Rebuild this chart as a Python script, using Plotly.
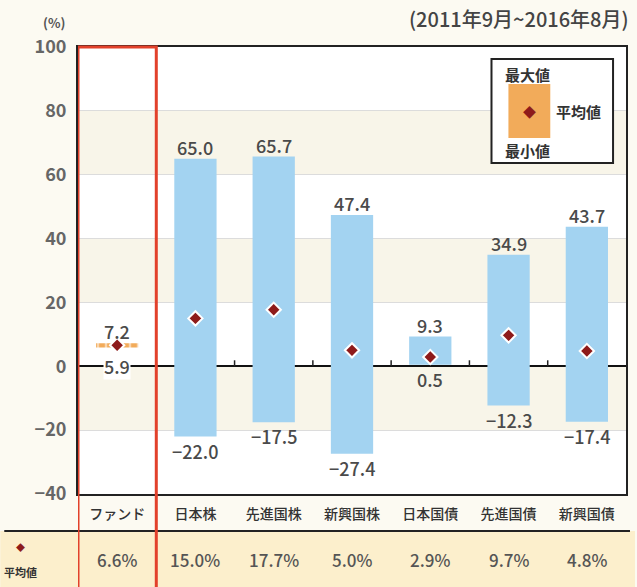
import plotly.graph_objects as go

categories = ["ファンド", "日本株", "先進国株", "新興国株", "日本国債", "先進国債", "新興国債"]
max_vals = [7.2, 65.0, 65.7, 47.4, 9.3, 34.9, 43.7]
min_vals = [5.9, -22.0, -17.5, -27.4, 0.5, -12.3, -17.4]
avg_vals = [6.6, 15.0, 17.7, 5.0, 2.9, 9.7, 4.8]
y_ticks = [100, 80, 60, 40, 20, 0, -20, -40]

FONT = "Noto Sans CJK JP"
PAPER = "#fcfaf2"
CREAM = "#f8f5e9"
ROW = "#fcefcc"
BLUE = "#a3d3f1"
ORANGE = "#f2ab5a"
DIAMOND = "#8e1b1b"
RED = "#e2412b"

L, R, T, B = 78, 9, 47, 93
W, H = 637, 587
pw, ph = W - L - R, H - T - B

def px_x(p):
    return (p - L) / pw

def px_y(p):
    return (H - B - p) / ph

fig = go.Figure()

# asset-class range bars
fig.add_trace(go.Bar(
    x=categories[1:], y=[mx - mn for mx, mn in zip(max_vals[1:], min_vals[1:])],
    base=min_vals[1:], marker=dict(color=BLUE, line=dict(width=0)), width=0.54,
    hoverinfo="skip", showlegend=False))
# fund range bar (dashed look)
fig.add_trace(go.Bar(
    x=categories[:1], y=[max_vals[0] - min_vals[0]], base=min_vals[:1],
    marker=dict(color=ORANGE, line=dict(width=0),
                pattern=dict(shape="|", fgcolor="white", size=8, solidity=0.3, fillmode="overlay")),
    width=0.54, hoverinfo="skip", showlegend=False))
# averages
fig.add_trace(go.Scatter(
    x=categories, y=avg_vals, mode="markers",
    marker=dict(symbol="diamond", size=11, color=DIAMOND, line=dict(color="white", width=2)),
    hoverinfo="skip", showlegend=False))

shapes = []
# cream bands
for y0, y1 in [(60, 80), (20, 40), (-20, 0)]:
    shapes.append(dict(type="rect", xref="paper", yref="y", x0=0, x1=1, y0=y0, y1=y1,
                       fillcolor=CREAM, line=dict(width=0), layer="below"))
# small ticks on zero line between categories
for i in range(len(categories) - 1):
    shapes.append(dict(type="line", xref="x", yref="y", x0=i + 0.5, x1=i + 0.5,
                       ysizemode="pixel", yanchor=0, y0=0, y1=6,
                       line=dict(color="#222", width=1.5)))
# bottom table row
shapes.append(dict(type="rect", xref="paper", yref="paper", x0=px_x(0), x1=px_x(W),
                   y0=px_y(H + 5), y1=px_y(531), fillcolor=ROW, line=dict(width=0), layer="below"))
shapes.append(dict(type="line", xref="paper", yref="paper", x0=px_x(4), x1=px_x(632),
                   y0=px_y(531), y1=px_y(531), line=dict(color="#222", width=2)))
# legend box
shapes.append(dict(type="rect", xref="paper", yref="paper", x0=px_x(493), x1=px_x(615),
                   y0=px_y(163), y1=px_y(59), fillcolor="white", line=dict(color="#222", width=2)))
shapes.append(dict(type="rect", xref="paper", yref="paper", x0=px_x(510), x1=px_x(552),
                   y0=px_y(138), y1=px_y(84), fillcolor=ORANGE, line=dict(width=0)))
# red highlight box around fund
shapes.append(dict(type="rect", xref="x", yref="paper", x0=-0.5, x1=0.5,
                   y0=px_y(H + 20), y1=1, line=dict(color=RED, width=3)))

annotations = []
lab_font = dict(family=FONT, size=18, color="#4a4a4a", weight=500)
for i, c in enumerate(categories):
    annotations.append(dict(x=c, y=max_vals[i], xref="x", yref="y", text=f"{max_vals[i]:.1f}",
                            showarrow=False, xanchor="center", yanchor="bottom", yshift=-3,
                            font=lab_font))
    if i == 0:
        annotations.append(dict(x=c, y=0, xref="x", yref="y", text=f"{min_vals[i]:.1f}",
                                showarrow=False, xanchor="center", yanchor="middle", font=lab_font,
                                bgcolor="white", borderpad=0))
    else:
        txt = f"{min_vals[i]:.1f}".replace("-", "−")
        annotations.append(dict(x=c, y=min_vals[i], xref="x", yref="y", text=txt,
                                showarrow=False, xanchor="center", yanchor="top", yshift=1,
                                font=lab_font))
    annotations.append(dict(x=c, y=px_y(559), xref="x", yref="paper", text=f"{avg_vals[i]:.1f}%",
                            showarrow=False, xanchor="center", yanchor="middle",
                            font=dict(family=FONT, size=17, color="#555", weight=500)))

def note(xp, yp, text, size, color, xanchor="center", weight=600):
    return dict(x=px_x(xp), y=px_y(yp), xref="paper", yref="paper", text=text, showarrow=False,
                xanchor=xanchor, yanchor="middle",
                font=dict(family=FONT, size=size, color=color, weight=weight))

annotations += [
    note(54, 22, "(%)", 13, "#555"),
    note(633, 19, "(2011年9月~2016年8月)", 20, "#444", xanchor="right", weight=500),
    note(20, 547, "◆", 9, DIAMOND),
    note(20, 572, "平均値", 11, "#333"),
    note(529, 75, "最大値", 15, "#333"),
    note(580, 112, "平均値", 15, "#333"),
    note(529, 150, "最小値", 15, "#333"),
    note(531, 111, "◆", 13, DIAMOND),
]

fig.update_layout(
    width=W, height=H, margin=dict(l=L, r=R, t=T, b=B),
    paper_bgcolor=PAPER, plot_bgcolor="white",
    barmode="overlay", showlegend=False,
    font=dict(family=FONT),
    xaxis=dict(type="category", categoryorder="array", categoryarray=categories,
               range=[-0.5, len(categories) - 0.5], showgrid=False,
               showline=True, mirror=True, linecolor="#222", linewidth=2,
               ticks="", tickfont=dict(family=FONT, size=14, color="#333", weight=500),
               ticklabelstandoff=6),
    yaxis=dict(range=[-40, 100], tickvals=y_ticks,
               ticktext=[str(v).replace("-", "−") for v in y_ticks],
               showgrid=True, gridcolor="#dcdcdc", gridwidth=1,
               zeroline=True, zerolinecolor="#111", zerolinewidth=1.5,
               showline=True, mirror=True, linecolor="#222", linewidth=2,
               ticks="", tickfont=dict(family=FONT, size=18, color="#666", weight=600),
               ticklabelstandoff=6),
    shapes=shapes, annotations=annotations,
)

fig.write_html("out.html", config={"displayModeBar": False},
               post_script="document.body.style.margin='0';document.body.style.overflow='hidden';")
